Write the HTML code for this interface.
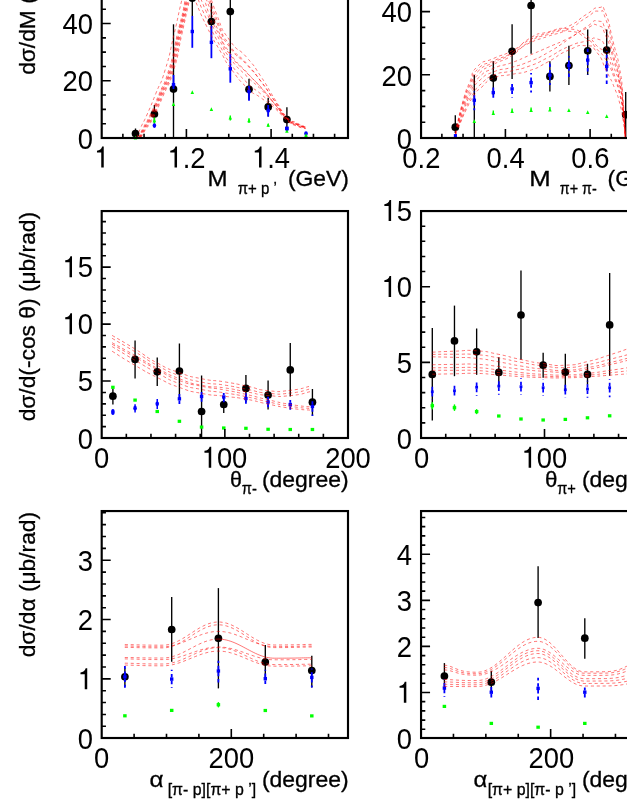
<!DOCTYPE html>
<html><head><meta charset="utf-8"><title>chart</title>
<style>html,body{margin:0;padding:0;background:#fff;}svg{display:block;will-change:transform;}</style>
</head><body>
<svg width="627" height="811" viewBox="0 0 627 811" font-family='"Liberation Sans", sans-serif' fill="#000">
<rect width="627" height="811" fill="#fff"/>
<clipPath id="c1b"><rect x="0" y="0" width="627" height="138"/></clipPath><g clip-path="url(#c1b)">
<path d="M135.5 128.5V137" stroke="#000" stroke-width="1.35"/>
<circle cx="135.5" cy="133.6" r="3.85" fill="#000"/>
<path d="M154.4 105V123" stroke="#000" stroke-width="1.35"/>
<circle cx="154.4" cy="114" r="3.85" fill="#000"/>
<path d="M173.5 24.3V137.8" stroke="#000" stroke-width="1.35"/>
<circle cx="173.5" cy="89.1" r="3.85" fill="#000"/>
<path d="M192.3 -20V16" stroke="#000" stroke-width="1.35"/>
<circle cx="192.3" cy="-1.8" r="3.85" fill="#000"/>
<path d="M211.4 3V40" stroke="#000" stroke-width="1.35"/>
<circle cx="211.4" cy="21.5" r="3.85" fill="#000"/>
<path d="M230.3 -10V53.8" stroke="#000" stroke-width="1.35"/>
<circle cx="230.3" cy="11.6" r="3.85" fill="#000"/>
<path d="M249 78.7V99.7" stroke="#000" stroke-width="1.35"/>
<circle cx="249" cy="89.3" r="3.85" fill="#000"/>
<path d="M268.2 97.7V116.6" stroke="#000" stroke-width="1.35"/>
<circle cx="268.2" cy="106.9" r="3.85" fill="#000"/>
<path d="M286.9 107.3V131" stroke="#000" stroke-width="1.35"/>
<circle cx="286.9" cy="119.6" r="3.85" fill="#000"/>
</g>
<path d="M135.5 135.83L137.25 139.57H133.75Z" fill="#00ff00"/>
<path d="M154.4 117.4V123.8" stroke="#00ff00" stroke-width="1.4"/>
<path d="M154.4 118.43L156.15 122.17H152.65Z" fill="#00ff00"/>
<path d="M173.5 102.13L175.25 105.88H171.75Z" fill="#00ff00"/>
<path d="M192.3 90.13L194.05 93.88H190.55Z" fill="#00ff00"/>
<path d="M211.4 107.33L213.15 111.08H209.65Z" fill="#00ff00"/>
<path d="M230.3 115.6V120.4" stroke="#00ff00" stroke-width="1.4"/>
<path d="M230.3 115.83L232.05 119.58H228.55Z" fill="#00ff00"/>
<path d="M249 118.2V123" stroke="#00ff00" stroke-width="1.4"/>
<path d="M249 118.43L250.75 122.17H247.25Z" fill="#00ff00"/>
<path d="M268.2 123.7V126.7" stroke="#00ff00" stroke-width="1.4"/>
<path d="M268.2 123.03L269.95 126.78H266.45Z" fill="#00ff00"/>
<path d="M286.9 129.03L288.65 132.77H285.15Z" fill="#00ff00"/>
<path d="M306 133.23L307.75 136.97H304.25Z" fill="#00ff00"/>
<ellipse cx="154.4" cy="125.6" rx="1.8" ry="2.4" fill="#0000ff"/>
<path d="M173.5 75V89" stroke="#0000ff" stroke-width="1.8"/>
<rect x="171.8" y="83" width="3.4" height="3.4" fill="#0000ff"/>
<path d="M192.3 15.9V47.8" stroke="#0000ff" stroke-width="1.8"/>
<rect x="190.6" y="29.8" width="3.4" height="3.4" fill="#0000ff"/>
<path d="M211.4 25.9V58.2" stroke="#0000ff" stroke-width="1.8"/>
<rect x="209.7" y="40.6" width="3.4" height="3.4" fill="#0000ff"/>
<path d="M230.3 53.8V82.7" stroke="#0000ff" stroke-width="1.8"/>
<rect x="228.6" y="67.1" width="3.4" height="3.4" fill="#0000ff"/>
<path d="M249 85.7V100.7" stroke="#0000ff" stroke-width="1.8"/>
<rect x="247.3" y="89.8" width="3.4" height="3.4" fill="#0000ff"/>
<path d="M268.2 105V116.6" stroke="#0000ff" stroke-width="1.8"/>
<rect x="266.5" y="108.8" width="3.4" height="3.4" fill="#0000ff"/>
<rect x="285" y="126.6" width="3.8" height="3.8" fill="#0000ff"/>
<ellipse cx="306" cy="133.4" rx="1.8" ry="2.2" fill="#0000ff"/>
<clipPath id="c1"><rect x="101.7" y="-5" width="246.3" height="143"/></clipPath><g clip-path="url(#c1)">
<path d="M136.9 137C138.27 133.67 137.53 134.67 141 127C144.47 119.33 142.33 125.23 147.3 114C152.27 102.77 149.87 108.27 155.9 93.3C161.93 78.33 159.37 88.7 165.4 69.1C171.43 49.5 168.53 57.53 174 34.5C179.47 11.47 176.65 21.42 181.8 0C186.95 -21.42 184.82 -16.46 189.46 -29.75C194.1 -43.04 190.33 -50.99 195.72 -39.88C201.12 -28.76 197.92 -21.26 205.65 3.6C213.38 28.46 210.71 17.54 218.92 34.69C227.13 51.85 220.93 42.27 230.29 55.07C239.65 67.86 236.76 62.35 247 73.08C257.24 83.8 251.67 76.98 261 87.25C270.33 97.52 266.33 93.37 275 103.89C283.67 114.41 280 112.08 287 118.81C294 125.55 289.8 121.11 296 124.08C302.2 127.05 302.4 126.51 305.6 127.72" fill="none" stroke="#ff0000" stroke-width="0.55" stroke-dasharray="3.1 2.8" stroke-dashoffset="0.6" stroke-opacity="1"/>
<path d="M138.71 137C140.17 133.95 139.51 134.78 143.1 127.84C146.69 120.9 144.25 127.22 149.48 116.18C154.72 105.15 152.29 110.42 158.8 94.73C165.31 79.03 162.85 89.18 169.01 69.1C175.17 49.02 171.92 57.53 177.28 34.5C182.63 11.47 181.09 22.07 185.08 0C189.06 -22.07 185.66 -17.22 189.24 -31.7C192.81 -46.18 190.87 -45.68 195.79 -43.45C200.71 -41.22 197.1 -44.15 204 -25C210.9 -5.85 208 -7.67 216.5 14C225 35.67 219.33 25.43 229.5 40C239.67 54.57 236.5 45.5 247 57.7C257.5 69.9 251.67 62.67 261 76.6C270.33 90.53 266.33 85.97 275 99.5C283.67 113.03 280 109.5 287 117.2C294 124.9 289.8 119.33 296 122.6C302.2 125.87 302.4 125.53 305.6 127" fill="none" stroke="#ff0000" stroke-width="0.55" stroke-dasharray="3.1 2.8" stroke-dashoffset="0.3" stroke-opacity="1"/>
<path d="M139.14 137C140.62 134.01 139.98 134.81 143.6 128.04C147.22 121.27 144.71 127.69 150 116.7C155.3 105.71 152.87 110.94 159.49 95.07C166.11 79.2 163.68 89.29 169.87 69.1C176.06 48.91 172.73 57.53 178.06 34.5C183.38 11.47 181.98 20.82 185.86 0C189.73 -20.82 186.4 -15.76 189.67 -27.95C192.94 -40.14 190.74 -40.16 195.67 -36.58C200.59 -32.99 197.25 -36.22 204.45 -17.2C211.65 1.82 208.82 -0.36 217.26 20.5C225.7 41.36 219.87 30.92 229.78 45.38C239.69 59.84 236.59 51.88 247 63.89C257.41 75.89 251.67 68.79 261 81.39C270.33 93.99 266.33 89.46 275 101.69C283.67 113.93 280 110.82 287 118.09C294 125.36 289.8 120.37 296 123.5C302.2 126.63 302.4 126.15 305.6 127.48" fill="none" stroke="#ff0000" stroke-width="0.55" stroke-dasharray="3.1 2.8" stroke-dashoffset="1.2" stroke-opacity="1"/>
<path d="M139.48 137C140.99 134.07 140.35 134.83 144 128.2C147.65 121.57 145.07 128.07 150.42 117.12C155.77 106.17 153.33 111.35 160.04 95.34C166.75 79.33 164.35 89.38 170.56 69.1C176.77 48.82 173.37 57.53 178.68 34.5C183.99 11.47 182.68 19.67 186.48 0C190.28 -19.67 187.05 -14.42 190.07 -24.5C193.1 -34.58 190.61 -35.28 195.55 -30.25C200.49 -25.22 197.49 -27.76 204.9 -9.4C212.31 8.96 209.43 5.85 217.77 24.83C226.1 43.81 220.15 34.14 229.89 47.53C239.64 60.93 236.63 53.73 247 65.01C257.37 76.3 251.67 69.28 261 81.39C270.33 93.51 266.33 89.21 275 101.36C283.67 113.5 280 110.58 287 117.84C294 125.1 289.8 120.01 296 123.14C302.2 126.27 302.4 125.87 305.6 127.24" fill="none" stroke="#ff0000" stroke-width="0.55" stroke-dasharray="3.1 2.8" stroke-dashoffset="0.1" stroke-opacity="1"/>
<path d="M139.82 137C141.35 134.12 140.73 134.85 144.4 128.36C148.07 121.87 145.44 128.45 150.84 117.54C156.23 106.62 153.79 111.76 160.59 95.61C167.4 79.47 165.01 89.47 171.25 69.1C177.49 48.73 174.02 57.53 179.3 34.5C184.59 11.47 183.4 18.67 187.1 0C190.81 -18.67 187.64 -13.25 190.43 -21.5C193.21 -29.75 190.5 -30.86 195.45 -24.75C200.39 -18.64 197.58 -21.79 205.26 -3.16C212.94 15.47 210.19 12.25 218.5 31.13C226.82 50.02 220.71 39.68 230.2 53.49C239.7 67.29 236.73 61.15 247 72.55C257.26 83.95 251.67 77.06 261 87.68C270.33 98.29 266.33 93.92 275 104.41C283.67 114.89 280 112.44 287 119.14C294 125.84 289.8 121.55 296 124.5C302.2 127.46 302.4 126.83 305.6 127.99" fill="none" stroke="#ff0000" stroke-width="0.55" stroke-dasharray="3.1 2.8" stroke-dashoffset="1.0" stroke-opacity="1"/>
<path d="M140.25 137C141.8 134.19 141.2 134.87 144.9 128.56C148.6 122.25 145.9 128.93 151.36 118.06C156.82 107.19 154.36 112.27 161.28 95.95C168.2 79.63 165.84 89.58 172.11 69.1C178.38 48.62 174.83 57.53 180.08 34.5C185.34 11.47 184.22 16.77 187.88 0C191.55 -16.77 188.63 -11.03 191.09 -15.8C193.55 -20.57 190.26 -23.37 195.26 -14.3C200.26 -5.23 198.01 -6.7 206.1 11.4C214.19 29.5 211.41 24.24 219.54 39.99C227.66 55.74 221.32 46.5 230.47 58.66C239.63 70.81 236.82 66.21 247 76.45C257.18 86.69 251.67 79.97 261 89.38C270.33 98.79 266.33 94.78 275 104.67C283.67 114.57 280 112.53 287 119.07C294 125.6 289.8 121.37 296 124.28C302.2 127.19 302.4 126.63 305.6 127.8" fill="none" stroke="#ff0000" stroke-width="0.55" stroke-dasharray="3.1 2.8" stroke-dashoffset="0.7" stroke-opacity="1"/>
<path d="M140.68 137C142.26 134.25 141.67 134.9 145.4 128.76C149.13 122.62 146.35 129.4 151.88 118.58C157.4 107.75 154.94 112.78 161.97 96.29C169 79.8 166.67 89.7 172.97 69.1C179.27 48.5 175.63 57.53 180.86 34.5C186.1 11.47 185.11 15.52 188.66 0C192.22 -15.52 189.37 -9.58 191.53 -12.05C193.68 -14.53 190.13 -17.84 195.14 -7.43C200.14 2.99 198.16 1.23 206.55 19.2C214.94 37.17 212.23 31.54 220.3 46.48C228.37 61.43 221.86 51.99 230.76 64.04C239.66 76.09 236.92 72.59 247 82.64C257.08 92.68 251.67 86.1 261 94.17C270.33 102.25 266.33 98.27 275 106.87C283.67 115.47 280 113.86 287 119.96C294 126.07 289.8 122.41 296 125.18C302.2 127.95 302.4 127.25 305.6 128.28" fill="none" stroke="#ff0000" stroke-width="0.55" stroke-dasharray="3.1 2.8" stroke-dashoffset="0.1" stroke-opacity="1"/>
<path d="M141.2 137C142.8 134.33 142.23 134.93 146 129C149.77 123.07 146.9 129.97 152.5 119.2C158.1 108.43 155.63 113.4 162.8 96.7C169.97 80 167.67 89.83 174 69.1C180.33 48.37 176.6 57.53 181.8 34.5C187 11.47 186.2 14.17 189.6 0C193 -14.17 190.2 -8 192 -8C193.8 -8 190 -11.67 195 0C200 11.67 198.33 9.5 207 27C215.67 44.5 213 38.6 221 52.5C229 66.4 222.33 56.97 231 68.7C239.67 80.43 237 77.97 247 87.7C257 97.43 251.67 90.97 261 97.9C270.33 104.83 266.33 100.93 275 108.5C283.67 116.07 280 114.83 287 120.6C294 126.37 289.8 123.13 296 125.8C302.2 128.47 302.4 127.67 305.6 128.6" fill="none" stroke="#ff0000" stroke-width="0.55" stroke-dasharray="3.1 2.8" stroke-dashoffset="0.9" stroke-opacity="1"/>
</g>
<path d="M306 133.29L307.3 136.07H304.7Z" fill="#00ff00"/>
<rect x="101.7" y="-88.95" width="246.3" height="226.95" fill="none" stroke="#000" stroke-width="2.15"/>
<path d="M101.7 123.69h4.25M101.7 109.38h4.25M101.7 95.07h4.25M101.7 66.45h4.25M101.7 52.14h4.25M101.7 37.83h4.25M101.7 9.21h4.25M101.7 80.76h9.0M101.7 23.52h9.0" stroke="#000" stroke-width="1.6" fill="none"/>
<path d="M122.88 138v-4.25M144.05 138v-4.25M165.22 138v-4.25M207.57 138v-4.25M228.75 138v-4.25M249.93 138v-4.25M292.27 138v-4.25M313.45 138v-4.25M334.62 138v-4.25M186.4 138v-9.0M271.1 138v-9.0" stroke="#000" stroke-width="1.6" fill="none"/>
<text transform="translate(62.45 33.65) scale(0.925 1)" font-size="29.6">40</text>
<text transform="translate(62.45 90.95) scale(0.925 1)" font-size="29.6">20</text>
<text transform="translate(77.68 148.65) scale(0.925 1)" font-size="29.6">0</text>
<path d="M103.74 167.6L101.25 167.6L101.25 152.59L96.98 152.59L96.98 150.73C99.53 150.49 101.53 149.1 102.18 146.61L103.74 146.61Z" fill="#000"/>
<path d="M177.03 167.6L174.53 167.6L174.53 152.59L170.26 152.59L170.26 150.73C172.81 150.49 174.81 149.1 175.47 146.61L177.03 146.61Z" fill="#000"/>
<text transform="translate(182.69 167.6) scale(0.925 1)" font-size="29.6">.2</text>
<path d="M261.53 167.6L259.03 167.6L259.03 152.59L254.76 152.59L254.76 150.73C257.31 150.49 259.31 149.1 259.97 146.61L261.53 146.61Z" fill="#000"/>
<text transform="translate(267.19 167.6) scale(0.925 1)" font-size="29.6">.4</text>
<clipPath id="c2b"><rect x="0" y="0" width="627" height="138"/></clipPath><g clip-path="url(#c2b)">
<path d="M455.3 115.2V133" stroke="#000" stroke-width="1.35"/>
<circle cx="455.3" cy="127.2" r="3.85" fill="#000"/>
<path d="M474.3 75V137.8" stroke="#000" stroke-width="1.35"/>
<path d="M493.3 61.3V94.9" stroke="#000" stroke-width="1.35"/>
<circle cx="493.3" cy="78.1" r="3.85" fill="#000"/>
<path d="M512.1 24.3V78.9" stroke="#000" stroke-width="1.35"/>
<circle cx="512.1" cy="51.3" r="3.85" fill="#000"/>
<path d="M531.1 -10V53.8" stroke="#000" stroke-width="1.35"/>
<circle cx="531.1" cy="5.5" r="3.85" fill="#000"/>
<path d="M549.9 61.3V91.4" stroke="#000" stroke-width="1.35"/>
<circle cx="549.9" cy="76.4" r="3.85" fill="#000"/>
<path d="M568.9 45.8V85.1" stroke="#000" stroke-width="1.35"/>
<circle cx="568.9" cy="65.6" r="3.85" fill="#000"/>
<path d="M587.7 29.5V75.1" stroke="#000" stroke-width="1.35"/>
<circle cx="587.7" cy="50.8" r="3.85" fill="#000"/>
<path d="M606.7 29.5V71" stroke="#000" stroke-width="1.35"/>
<circle cx="606.7" cy="50.1" r="3.85" fill="#000"/>
<path d="M625.7 92.1V137.8" stroke="#000" stroke-width="1.35"/>
<circle cx="625.7" cy="114.7" r="3.85" fill="#000"/>
</g>
<path d="M455.5 137.5L456.0 130.8" stroke="#ff0000" stroke-width="1.3"/>
<path d="M474.3 119.13L476.05 122.88H472.55Z" fill="#00ff00"/>
<path d="M493.3 110.4V113.3" stroke="#00ff00" stroke-width="1.4"/>
<path d="M493.3 111.13L495.05 114.88H491.55Z" fill="#00ff00"/>
<path d="M512.1 108.6V111.5" stroke="#00ff00" stroke-width="1.4"/>
<path d="M512.1 109.33L513.85 113.08H510.35Z" fill="#00ff00"/>
<path d="M531.1 107.4V110.3" stroke="#00ff00" stroke-width="1.4"/>
<path d="M531.1 108.13L532.85 111.88H529.35Z" fill="#00ff00"/>
<path d="M549.9 106.9V109.8" stroke="#00ff00" stroke-width="1.4"/>
<path d="M549.9 107.63L551.65 111.38H548.15Z" fill="#00ff00"/>
<path d="M568.9 108.13L570.65 111.88H567.15Z" fill="#00ff00"/>
<path d="M587.7 110.33L589.45 114.08H585.95Z" fill="#00ff00"/>
<path d="M606.7 114.13L608.45 117.88H604.95Z" fill="#00ff00"/>
<rect x="453.85" y="134.05" width="3.1" height="3.1" fill="#0000ff"/>
<path d="M474.3 98.5V91.4M474.3 101.9V110.2" stroke="#0000ff" stroke-width="1.8" stroke-dasharray="3.5 2.8"/>
<rect x="472.6" y="98.5" width="3.4" height="3.4" fill="#0000ff"/>
<path d="M493.3 90.9V86.4M493.3 94.3V100.2" stroke="#0000ff" stroke-width="1.8" stroke-dasharray="3.5 2.8"/>
<rect x="491.6" y="90.9" width="3.4" height="3.4" fill="#0000ff"/>
<path d="M512.1 87.2V83.9M512.1 90.6V97.6" stroke="#0000ff" stroke-width="1.8" stroke-dasharray="3.5 2.8"/>
<rect x="510.4" y="87.2" width="3.4" height="3.4" fill="#0000ff"/>
<path d="M531.1 80.9V73.1M531.1 84.3V92.6" stroke="#0000ff" stroke-width="1.8" stroke-dasharray="3.5 2.8"/>
<rect x="529.4" y="80.9" width="3.4" height="3.4" fill="#0000ff"/>
<path d="M549.9 73.4V62.6M549.9 76.8V85.1" stroke="#0000ff" stroke-width="1.8" stroke-dasharray="3.5 2.8"/>
<rect x="548.2" y="73.4" width="3.4" height="3.4" fill="#0000ff"/>
<path d="M568.9 63.9V56.3M568.9 67.3V77.6" stroke="#0000ff" stroke-width="1.8" stroke-dasharray="3.5 2.8"/>
<rect x="567.2" y="63.9" width="3.4" height="3.4" fill="#0000ff"/>
<path d="M587.7 58.4V48.8M587.7 61.8V75.1" stroke="#0000ff" stroke-width="1.8" stroke-dasharray="3.5 2.8"/>
<rect x="586" y="58.4" width="3.4" height="3.4" fill="#0000ff"/>
<path d="M606.7 64.6V51.3M606.7 68V83.9" stroke="#0000ff" stroke-width="1.8" stroke-dasharray="3.5 2.8"/>
<rect x="605" y="64.6" width="3.4" height="3.4" fill="#0000ff"/>
<clipPath id="c2"><rect x="421.05" y="-5" width="246.3" height="143"/></clipPath><g clip-path="url(#c2)">
<path d="M456.6 126.3C459.03 116.8 459.5 112.57 463.9 97.8C468.3 83.03 465.33 92.4 469.8 82C474.27 71.6 469.33 74.47 477.3 66.6C485.27 58.73 482.27 63.6 493.7 58.4C505.13 53.2 499.67 57.13 511.6 51C523.53 44.87 517.57 46 529.5 40C541.43 34 534.5 37.53 547.4 33C560.3 28.47 555.3 32.53 568.2 26.4C581.1 20.27 575.9 20.87 586.1 14.6C596.3 8.33 592.27 7.97 598.8 7.6C605.33 7.23 600.9 2.03 605.7 13.5C610.5 24.97 608.6 23.83 613.2 42C617.8 60.17 616.23 49.33 619.5 68C622.77 86.67 621.1 75.13 623 98C624.9 120.87 624.47 123.73 625.2 136.6" fill="none" stroke="#ff0000" stroke-width="0.55" stroke-dasharray="3.1 2.8" stroke-dashoffset="0.1" stroke-opacity="1"/>
<path d="M456.78 126.45C459.25 117.25 459.7 113.24 464.19 98.86C468.68 84.48 465.7 93.24 470.25 83.3C474.8 73.36 470.02 76.56 477.84 69.05C485.66 61.54 482.45 66 493.7 60.76C504.95 55.53 499.67 59.24 511.6 53.34C523.53 47.44 517.57 48.67 529.5 43.06C541.43 37.45 534.5 41.1 547.4 36.5C560.3 31.91 555.3 35.53 568.2 29.27C581.1 23.01 575.95 23.75 586.1 17.72C596.25 11.69 592.1 10.68 598.66 11.19C605.22 11.7 600.87 6.68 605.78 19.25C610.69 31.82 608.79 30.22 613.39 48.9C618 67.58 616.37 57.27 619.6 75.3C622.84 93.33 621.22 82.47 623.1 103C624.98 123.53 624.53 125.59 625.24 136.88" fill="none" stroke="#ff0000" stroke-width="0.55" stroke-dasharray="3.1 2.8" stroke-dashoffset="0.8" stroke-opacity="1"/>
<path d="M456.96 126.6C459.47 117.71 459.9 113.92 464.48 99.92C469.06 85.92 466.1 94.21 470.7 84.6C475.3 74.99 470.62 78.51 478.29 71.09C485.96 63.67 482.6 68.26 493.7 62.34C504.8 56.42 499.67 61.3 511.6 53.34C523.53 45.38 517.57 45.54 529.5 38.47C541.43 31.4 534.5 35.35 547.4 32.12C560.3 28.9 555.3 27.56 568.2 28.79C581.1 30.02 576.42 30.01 586.1 35.82C595.78 41.62 590.53 39.85 597.25 46.21C603.98 52.58 600.66 45.57 606.28 54.9C611.9 64.23 609.59 61.32 614.11 74.2C618.63 87.08 616.77 79.78 619.85 93.55C622.93 107.32 621.52 100.82 623.35 115.5C625.18 130.18 624.68 130.22 625.34 137.58" fill="none" stroke="#ff0000" stroke-width="0.55" stroke-dasharray="3.1 2.8" stroke-dashoffset="0.1" stroke-opacity="1"/>
<path d="M457.23 126.82C459.79 118.39 460.2 114.93 464.91 101.51C469.63 88.08 466.72 95.81 471.38 86.55C476.03 77.29 471.43 81.15 478.88 73.74C486.32 66.33 482.79 70.33 493.7 64.31C504.61 58.29 499.67 63.17 511.6 55.68C523.53 48.19 517.57 48.81 529.5 41.84C541.43 34.86 534.5 38.3 547.4 34.75C560.3 31.2 555.3 29.99 568.2 31.18C581.1 32.37 576.46 32.25 586.1 38.31C595.74 44.37 590.37 41.91 597.13 49.36C603.88 56.8 600.66 51.14 606.36 60.65C612.05 70.16 609.71 66.3 614.21 77.88C618.72 89.45 616.82 82.42 619.88 95.38C622.93 108.33 621.55 102.66 623.38 116.75C625.2 130.84 624.69 130.68 625.35 137.65" fill="none" stroke="#ff0000" stroke-width="0.55" stroke-dasharray="3.1 2.8" stroke-dashoffset="0.2" stroke-opacity="1"/>
<path d="M457.5 127.05C460.12 119.07 460.5 115.95 465.35 103.1C470.2 90.25 467.32 97.27 472.05 88.5C476.78 79.73 472.33 83.55 479.55 76.8C486.77 70.05 483.02 72.95 493.7 68.25C504.38 63.55 499.67 67.02 511.6 62.7C523.53 58.38 517.57 60.33 529.5 55.3C541.43 50.27 534.5 53.25 547.4 47.6C560.3 41.95 555.3 44.67 568.2 38.35C581.1 32.03 576.14 32.9 586.1 28.64C596.06 24.38 591.44 22.94 598.08 25.56C604.72 28.18 600.81 24.89 606.02 36.5C611.23 48.11 609.16 45.03 613.72 60.4C618.28 75.77 616.54 66.73 619.7 82.6C622.86 98.47 621.34 89.81 623.2 108C625.06 126.19 624.59 127.44 625.28 137.16" fill="none" stroke="#ff0000" stroke-width="0.55" stroke-dasharray="3.1 2.8" stroke-dashoffset="0.8" stroke-opacity="1"/>
<path d="M457.77 127.28C460.44 119.75 460.8 116.97 465.78 104.69C470.77 92.41 467.91 98.73 472.73 90.45C477.54 82.17 473.23 86.08 480.23 79.86C487.22 73.64 483.24 75.96 493.7 71.8C504.16 67.64 499.67 70.84 511.6 67.38C523.53 63.92 517.57 66.26 529.5 61.42C541.43 56.58 534.5 60.15 547.4 52.86C560.3 45.56 555.3 48.14 568.2 39.55C581.1 30.95 576.08 33.24 586.1 27.08C596.12 20.92 591.65 19.85 598.26 21.07C604.87 22.29 600.83 19.17 605.94 30.75C611.05 42.33 609.01 39.12 613.59 55.8C618.17 72.47 616.47 63.38 619.67 80.78C622.88 98.18 621.33 89.2 623.2 108C625.07 126.8 624.59 127.44 625.28 137.16" fill="none" stroke="#ff0000" stroke-width="0.55" stroke-dasharray="3.1 2.8" stroke-dashoffset="1.5" stroke-opacity="1"/>
<path d="M458.13 127.58C460.88 120.65 461.2 118.32 466.37 106.81C471.53 95.3 468.7 100.67 473.62 93.05C478.55 85.43 474.43 89.91 481.12 83.94C487.82 77.97 483.54 79.49 493.7 75.14C503.86 70.8 499.67 73.94 511.6 70.89C523.53 67.84 517.57 70.37 529.5 66.01C541.43 61.65 534.5 64.25 547.4 57.82C560.3 51.39 555.3 52.28 568.2 46.71C581.1 41.15 576.32 43.68 586.1 41.12C595.88 38.56 590.85 36.74 597.54 39.03C604.23 41.32 600.72 38.58 606.18 48C611.64 57.42 609.39 54.55 613.91 67.3C618.44 80.05 616.64 71.85 619.75 86.25C622.86 100.65 621.4 93.48 623.25 110.5C625.1 127.52 624.62 128.37 625.3 137.3" fill="none" stroke="#ff0000" stroke-width="0.55" stroke-dasharray="3.1 2.8" stroke-dashoffset="0.2" stroke-opacity="1"/>
<path d="M458.4 127.8C461.2 121.33 461.5 119.33 466.8 108.4C472.1 97.47 469.3 102.13 474.3 95C479.3 87.87 475.33 92.63 481.8 87C488.27 81.37 483.77 82.3 493.7 78.1C503.63 73.9 499.67 76.9 511.6 74.4C523.53 71.9 517.57 74.67 529.5 70.6C541.43 66.53 534.5 68.97 547.4 62.2C560.3 55.43 555.3 55.77 568.2 50.3C581.1 44.83 576.5 45.07 586.1 45.8C595.7 46.53 590.2 44.1 597 52.5C603.8 60.9 600.67 59.17 606.5 71C612.33 82.83 610 76.83 614.5 88C619 99.17 617 92.83 620 104.5C623 116.17 621.7 111.83 623.5 123C625.3 134.17 624.77 133 625.4 138" fill="none" stroke="#ff0000" stroke-width="0.55" stroke-dasharray="3.1 2.8" stroke-dashoffset="0.4" stroke-opacity="1"/>
</g>
<rect x="421.05" y="-88.95" width="246.3" height="226.95" fill="none" stroke="#000" stroke-width="2.15"/>
<path d="M421.05 122.2h4.25M421.05 106.4h4.25M421.05 90.6h4.25M421.05 59h4.25M421.05 43.2h4.25M421.05 27.4h4.25M421.05 74.8h9.0M421.05 11.6h9.0" stroke="#000" stroke-width="1.6" fill="none"/>
<path d="M441.88 138v-4.25M463.05 138v-4.25M484.23 138v-4.25M526.58 138v-4.25M547.75 138v-4.25M568.92 138v-4.25M611.27 138v-4.25M632.45 138v-4.25M653.62 138v-4.25M505.4 138v-9.0M590.1 138v-9.0" stroke="#000" stroke-width="1.6" fill="none"/>
<text transform="translate(381.55 21.75) scale(0.925 1)" font-size="29.6">40</text>
<text transform="translate(381.55 85.55) scale(0.925 1)" font-size="29.6">20</text>
<text transform="translate(396.78 148.65) scale(0.925 1)" font-size="29.6">0</text>
<text transform="translate(402.37 167.6) scale(0.925 1)" font-size="29.6">0.2</text>
<text transform="translate(486.57 167.6) scale(0.925 1)" font-size="29.6">0.4</text>
<text transform="translate(571.37 167.6) scale(0.925 1)" font-size="29.6">0.6</text>
<path d="M112.9 388.5V404.5" stroke="#000" stroke-width="1.35"/>
<circle cx="112.9" cy="396.2" r="3.85" fill="#000"/>
<path d="M135.07 340.5V378.5" stroke="#000" stroke-width="1.35"/>
<circle cx="135.07" cy="359.4" r="3.85" fill="#000"/>
<path d="M157.24 357.5V386" stroke="#000" stroke-width="1.35"/>
<circle cx="157.24" cy="371.8" r="3.85" fill="#000"/>
<path d="M179.41 343.5V399" stroke="#000" stroke-width="1.35"/>
<circle cx="179.41" cy="371" r="3.85" fill="#000"/>
<path d="M201.58 375.5V438" stroke="#000" stroke-width="1.35"/>
<circle cx="201.58" cy="411.5" r="3.85" fill="#000"/>
<path d="M223.75 396V413" stroke="#000" stroke-width="1.35"/>
<circle cx="223.75" cy="404.5" r="3.85" fill="#000"/>
<path d="M245.92 375V402" stroke="#000" stroke-width="1.35"/>
<circle cx="245.92" cy="388.4" r="3.85" fill="#000"/>
<path d="M268.09 380.5V409.5" stroke="#000" stroke-width="1.35"/>
<circle cx="268.09" cy="395" r="3.85" fill="#000"/>
<path d="M290.26 343V396.5" stroke="#000" stroke-width="1.35"/>
<circle cx="290.26" cy="369.9" r="3.85" fill="#000"/>
<path d="M312.43 389V415.5" stroke="#000" stroke-width="1.35"/>
<circle cx="312.43" cy="402.2" r="3.85" fill="#000"/>
<rect x="111.15" y="385.7" width="3.5" height="3.2" fill="#00ff00"/>
<rect x="133.32" y="398.5" width="3.5" height="3.2" fill="#00ff00"/>
<rect x="155.49" y="409.9" width="3.5" height="3.2" fill="#00ff00"/>
<rect x="177.66" y="419.7" width="3.5" height="3.2" fill="#00ff00"/>
<rect x="199.83" y="425.5" width="3.5" height="3.2" fill="#00ff00"/>
<rect x="222" y="426.4" width="3.5" height="3.2" fill="#00ff00"/>
<rect x="244.17" y="426.7" width="3.5" height="3.2" fill="#00ff00"/>
<rect x="266.34" y="427.7" width="3.5" height="3.2" fill="#00ff00"/>
<rect x="288.51" y="427.9" width="3.5" height="3.2" fill="#00ff00"/>
<rect x="310.68" y="427.9" width="3.5" height="3.2" fill="#00ff00"/>
<ellipse cx="112.9" cy="411.9" rx="1.8" ry="3.0" fill="#0000ff"/>
<path d="M135.07 404.2V412.5" stroke="#0000ff" stroke-width="1.5"/>
<ellipse cx="135.07" cy="408.2" rx="1.8" ry="2.4" fill="#0000ff"/>
<path d="M157.24 398.9V408.9" stroke="#0000ff" stroke-width="1.5"/>
<ellipse cx="157.24" cy="403.8" rx="1.8" ry="2.4" fill="#0000ff"/>
<path d="M179.41 397.1V394M179.41 400.5V406" stroke="#0000ff" stroke-width="1.8" stroke-dasharray="3.5 2.8"/>
<rect x="177.71" y="397.1" width="3.4" height="3.4" fill="#0000ff"/>
<path d="M201.58 394.8V392M201.58 398.2V404" stroke="#0000ff" stroke-width="1.8" stroke-dasharray="3.5 2.8"/>
<rect x="199.88" y="394.8" width="3.4" height="3.4" fill="#0000ff"/>
<path d="M223.75 395.3V393M223.75 398.7V404" stroke="#0000ff" stroke-width="1.8" stroke-dasharray="3.5 2.8"/>
<rect x="222.05" y="395.3" width="3.4" height="3.4" fill="#0000ff"/>
<path d="M245.92 396.8V393M245.92 400.2V405.5" stroke="#0000ff" stroke-width="1.8" stroke-dasharray="3.5 2.8"/>
<rect x="244.22" y="396.8" width="3.4" height="3.4" fill="#0000ff"/>
<path d="M268.09 400.3V396M268.09 403.7V410" stroke="#0000ff" stroke-width="1.8" stroke-dasharray="3.5 2.8"/>
<rect x="266.39" y="400.3" width="3.4" height="3.4" fill="#0000ff"/>
<path d="M290.26 402.8V400M290.26 406.2V412" stroke="#0000ff" stroke-width="1.8" stroke-dasharray="3.5 2.8"/>
<rect x="288.56" y="402.8" width="3.4" height="3.4" fill="#0000ff"/>
<path d="M312.43 404.8V400.5M312.43 408.2V416" stroke="#0000ff" stroke-width="1.8" stroke-dasharray="3.5 2.8"/>
<rect x="310.73" y="404.8" width="3.4" height="3.4" fill="#0000ff"/>
<path d="M112.1 335.4C119.7 339.9 119.8 339.68 134.9 348.91C150 358.14 142.6 355.18 157.4 363.09C172.2 370.99 164.57 367.42 179.3 372.63C194.03 377.85 186.47 375.64 201.6 378.73C216.73 381.82 209.77 379.48 224.7 381.9C239.63 384.33 231.87 383.07 246.4 386C260.93 388.93 253.63 389.27 268.3 390.7C282.97 392.13 276.2 391.87 290.4 390.3C304.6 388.73 304.07 387.43 310.9 386" fill="none" stroke="#ff0000" stroke-width="0.55" stroke-dasharray="3.1 2.8" stroke-opacity="1"/>
<path d="M112.1 338.32C119.7 342.78 119.8 342.64 134.9 351.7C150 360.77 142.6 357.53 157.4 365.51C172.2 373.5 164.57 370.12 179.3 375.65C194.03 381.18 186.47 378.96 201.6 382.12C216.73 385.27 209.77 382.75 224.7 385.11C239.63 387.46 231.87 386.47 246.4 389.19C260.93 391.91 253.63 391.98 268.3 393.26C282.97 394.54 276.2 394.54 290.4 393.04C304.6 391.54 304.07 390.18 310.9 388.75" fill="none" stroke="#ff0000" stroke-width="0.55" stroke-dasharray="3.1 2.8" stroke-opacity="1"/>
<path d="M112.1 342.7C119.7 346.93 119.8 346.85 134.9 355.39C150 363.93 142.6 360.55 157.4 368.31C172.2 376.07 164.57 373.01 179.3 378.67C194.03 384.32 186.47 382.19 201.6 385.27C216.73 388.34 209.77 385.72 224.7 387.9C239.63 390.07 231.87 389.27 246.4 391.8C260.93 394.33 253.63 394.23 268.3 395.5C282.97 396.77 276.2 396.93 290.4 395.6C304.6 394.27 304.07 392.87 310.9 391.5" fill="none" stroke="#ff0000" stroke-width="0.55" stroke-dasharray="3.1 2.8" stroke-opacity="1"/>
<path d="M112.1 344.27C119.7 348.54 119.8 348.59 134.9 357.09C150 365.59 142.6 361.97 157.4 369.77C172.2 377.57 164.57 375.01 179.3 380.5C194.03 385.99 186.47 383.09 201.6 386.25C216.73 389.41 209.77 387.23 224.7 389.97C239.63 392.7 231.87 391.18 246.4 394.46C260.93 397.74 253.63 396.5 268.3 399.82C282.97 403.14 276.2 402.04 290.4 404.43C304.6 406.83 304.07 406.14 310.9 407" fill="none" stroke="#ff0000" stroke-width="0.55" stroke-dasharray="3.1 2.8" stroke-opacity="1"/>
<path d="M112.1 346.58C119.7 351.11 119.8 351.36 134.9 360.17C150 368.98 142.6 365.2 157.4 373.01C172.2 380.82 164.57 378.11 179.3 383.61C194.03 389.1 186.47 386.41 201.6 389.5C216.73 392.59 209.77 390.48 224.7 392.88C239.63 395.28 231.87 393.69 246.4 396.7C260.93 399.71 253.63 398.7 268.3 401.9C282.97 405.1 276.2 404.07 290.4 406.3C304.6 408.53 304.07 407.83 310.9 408.6" fill="none" stroke="#ff0000" stroke-width="0.55" stroke-dasharray="3.1 2.8" stroke-opacity="1"/>
<path d="M112.1 351.2C119.7 355.9 119.8 356.5 134.9 365.3C150 374.1 142.6 370.23 157.4 377.6C172.2 384.97 164.57 382.14 179.3 387.4C194.03 392.66 186.47 390.42 201.6 393.38C216.73 396.33 209.77 394.32 224.7 396.27C239.63 398.22 231.87 396.6 246.4 399.22C260.93 401.84 253.63 401.14 268.3 404.14C282.97 407.14 276.2 406.21 290.4 408.23C304.6 410.25 304.07 409.54 310.9 410.2" fill="none" stroke="#ff0000" stroke-width="0.55" stroke-dasharray="3.1 2.8" stroke-opacity="1"/>
<rect x="101.7" y="211.05" width="246.3" height="226.95" fill="none" stroke="#000" stroke-width="2.15"/>
<path d="M101.7 426.61h4.25M101.7 415.22h4.25M101.7 403.83h4.25M101.7 392.44h4.25M101.7 369.66h4.25M101.7 358.27h4.25M101.7 346.88h4.25M101.7 335.49h4.25M101.7 312.71h4.25M101.7 301.32h4.25M101.7 289.93h4.25M101.7 278.54h4.25M101.7 255.76h4.25M101.7 244.37h4.25M101.7 232.98h4.25M101.7 221.59h4.25M101.7 381.05h9.0M101.7 324.1h9.0M101.7 267.15h9.0" stroke="#000" stroke-width="1.6" fill="none"/>
<path d="M126.33 438v-4.25M150.96 438v-4.25M175.59 438v-4.25M200.22 438v-4.25M249.48 438v-4.25M274.11 438v-4.25M298.74 438v-4.25M323.37 438v-4.25M224.85 438v-9.0" stroke="#000" stroke-width="1.6" fill="none"/>
<path d="M72.01 277.15L69.52 277.15L69.52 262.14L65.25 262.14L65.25 260.28C67.79 260.04 69.79 258.65 70.45 256.16L72.01 256.16Z" fill="#000"/>
<text transform="translate(77.68 277.15) scale(0.925 1)" font-size="29.6">5</text>
<path d="M72.01 334.15L69.52 334.15L69.52 319.14L65.25 319.14L65.25 317.28C67.79 317.04 69.79 315.65 70.45 313.16L72.01 313.16Z" fill="#000"/>
<text transform="translate(77.68 334.15) scale(0.925 1)" font-size="29.6">0</text>
<text transform="translate(77.68 391.15) scale(0.925 1)" font-size="29.6">5</text>
<text transform="translate(77.68 448.65) scale(0.925 1)" font-size="29.6">0</text>
<text transform="translate(93.99 467.7) scale(0.925 1)" font-size="29.6">0</text>
<path d="M211.22 467.7L208.73 467.7L208.73 452.69L204.46 452.69L204.46 450.83C207 450.59 209 449.2 209.66 446.71L211.22 446.71Z" fill="#000"/>
<text transform="translate(216.89 467.7) scale(0.925 1)" font-size="29.6">00</text>
<text transform="translate(325.17 467.7) scale(0.925 1)" font-size="29.6">200</text>
<clipPath id="c4b"><rect x="0" y="211.05" width="627" height="226.95"/></clipPath><g clip-path="url(#c4b)">
<path d="M432.3 327.9V420.6" stroke="#000" stroke-width="1.35"/>
<circle cx="432.3" cy="374.4" r="3.85" fill="#000"/>
<path d="M454.47 305.6V376.2" stroke="#000" stroke-width="1.35"/>
<circle cx="454.47" cy="340.9" r="3.85" fill="#000"/>
<path d="M476.64 328.5V374.8" stroke="#000" stroke-width="1.35"/>
<circle cx="476.64" cy="351.8" r="3.85" fill="#000"/>
<path d="M498.81 357.2V387.6" stroke="#000" stroke-width="1.35"/>
<circle cx="498.81" cy="372.4" r="3.85" fill="#000"/>
<path d="M520.98 270.5V359.8" stroke="#000" stroke-width="1.35"/>
<circle cx="520.98" cy="315" r="3.85" fill="#000"/>
<path d="M543.15 352.8V377.8" stroke="#000" stroke-width="1.35"/>
<circle cx="543.15" cy="365.2" r="3.85" fill="#000"/>
<path d="M565.32 353.8V390.5" stroke="#000" stroke-width="1.35"/>
<circle cx="565.32" cy="372.2" r="3.85" fill="#000"/>
<path d="M587.49 363.8V384.7" stroke="#000" stroke-width="1.35"/>
<circle cx="587.49" cy="374.4" r="3.85" fill="#000"/>
<path d="M609.66 273V375.8" stroke="#000" stroke-width="1.35"/>
<circle cx="609.66" cy="324.9" r="3.85" fill="#000"/>
</g>
<path d="M432.3 402.7V408.7" stroke="#00ff00" stroke-width="1.6" stroke-linecap="round"/>
<rect x="430.55" y="404.1" width="3.5" height="3.2" fill="#00ff00"/>
<path d="M454.47 405.1V410.3" stroke="#00ff00" stroke-width="1.6" stroke-linecap="round"/>
<rect x="452.72" y="406.1" width="3.5" height="3.2" fill="#00ff00"/>
<path d="M476.64 409.8V413.4" stroke="#00ff00" stroke-width="1.6" stroke-linecap="round"/>
<rect x="474.89" y="410" width="3.5" height="3.2" fill="#00ff00"/>
<rect x="497.06" y="414.4" width="3.5" height="3.2" fill="#00ff00"/>
<rect x="519.23" y="417.4" width="3.5" height="3.2" fill="#00ff00"/>
<rect x="541.4" y="418.4" width="3.5" height="3.2" fill="#00ff00"/>
<rect x="563.57" y="417.8" width="3.5" height="3.2" fill="#00ff00"/>
<rect x="585.74" y="416.2" width="3.5" height="3.2" fill="#00ff00"/>
<rect x="607.91" y="414.2" width="3.5" height="3.2" fill="#00ff00"/>
<path d="M432.3 390.3V386.7M432.3 393.1V399.7" stroke="#0000ff" stroke-width="1.7" stroke-dasharray="3.5 2.8"/>
<rect x="430.9" y="390.3" width="2.8" height="2.8" fill="#0000ff"/>
<path d="M454.47 389.3V384.7M454.47 392.1V397.7" stroke="#0000ff" stroke-width="1.7" stroke-dasharray="3.5 2.8"/>
<rect x="453.07" y="389.3" width="2.8" height="2.8" fill="#0000ff"/>
<path d="M476.64 385.9V379.7M476.64 388.7V395.7" stroke="#0000ff" stroke-width="1.7" stroke-dasharray="3.5 2.8"/>
<rect x="475.24" y="385.9" width="2.8" height="2.8" fill="#0000ff"/>
<path d="M498.81 384.7V378.7M498.81 387.5V394.7" stroke="#0000ff" stroke-width="1.7" stroke-dasharray="3.5 2.8"/>
<rect x="497.41" y="384.7" width="2.8" height="2.8" fill="#0000ff"/>
<path d="M520.98 385.3V378.3M520.98 388.1V395.1" stroke="#0000ff" stroke-width="1.7" stroke-dasharray="3.5 2.8"/>
<rect x="519.58" y="385.3" width="2.8" height="2.8" fill="#0000ff"/>
<path d="M543.15 386.3V379.7M543.15 389.1V396.1" stroke="#0000ff" stroke-width="1.7" stroke-dasharray="3.5 2.8"/>
<rect x="541.75" y="386.3" width="2.8" height="2.8" fill="#0000ff"/>
<path d="M565.32 388.3V384.7M565.32 391.1V397.7" stroke="#0000ff" stroke-width="1.7" stroke-dasharray="3.5 2.8"/>
<rect x="563.92" y="388.3" width="2.8" height="2.8" fill="#0000ff"/>
<path d="M587.49 387.7V380.7M587.49 390.5V397.7" stroke="#0000ff" stroke-width="1.7" stroke-dasharray="3.5 2.8"/>
<rect x="586.09" y="387.7" width="2.8" height="2.8" fill="#0000ff"/>
<path d="M609.66 386.3V379.3M609.66 389.1V397.3" stroke="#0000ff" stroke-width="1.7" stroke-dasharray="3.5 2.8"/>
<rect x="608.26" y="386.3" width="2.8" height="2.8" fill="#0000ff"/>
<clipPath id="c4"><rect x="421.05" y="211.05" width="246.3" height="226.95"/></clipPath><g clip-path="url(#c4)">
<path d="M432.3 352.2C439.63 351.87 439.53 351.67 454.3 351.2C469.07 350.73 461.8 349.75 476.6 350.8C491.4 351.85 483.97 351.45 498.7 354.35C513.43 357.25 505.93 356.42 520.8 359.49C535.67 362.56 528.43 361.66 543.3 363.57C558.17 365.47 550.67 365.89 565.4 365.21C580.13 364.54 572.67 365.01 587.5 361.55C602.33 358.09 595.07 359.59 609.9 354.85C624.73 350.1 624.63 349.82 632 347.31" fill="none" stroke="#ff0000" stroke-width="0.55" stroke-dasharray="3.1 2.8" stroke-opacity="1"/>
<path d="M432.3 354.4C439.63 354.35 439.53 354.17 454.3 354.26C469.07 354.35 461.8 353.45 476.6 354.67C491.4 355.89 483.97 355.38 498.7 357.92C513.43 360.46 505.93 359.61 520.8 362.28C535.67 364.95 528.43 364.16 543.3 365.92C558.17 367.68 550.67 367.98 565.4 367.56C580.13 367.14 572.67 367.41 587.5 364.66C602.33 361.92 595.07 363.04 609.9 359.33C624.73 355.62 624.63 355.46 632 353.52" fill="none" stroke="#ff0000" stroke-width="0.55" stroke-dasharray="3.1 2.8" stroke-opacity="1"/>
<path d="M432.3 356.82C439.63 357 439.53 356.84 454.3 357.35C469.07 357.87 461.8 356.86 476.6 358.36C491.4 359.85 483.97 359.29 498.7 361.84C513.43 364.39 505.93 363.59 520.8 366C535.67 368.41 528.43 367.67 543.3 369.07C558.17 370.47 550.67 370.69 565.4 370.21C580.13 369.72 572.67 370.12 587.5 367.6C602.33 365.09 595.07 366.19 609.9 362.66C624.73 359.14 624.63 358.91 632 357.03" fill="none" stroke="#ff0000" stroke-width="0.55" stroke-dasharray="3.1 2.8" stroke-opacity="1"/>
<path d="M432.3 364.74C439.63 364.62 439.53 364.54 454.3 364.38C469.07 364.23 461.8 363.59 476.6 364.28C491.4 364.98 483.97 364.82 498.7 366.46C513.43 368.1 505.93 367.6 520.8 369.2C535.67 370.81 528.43 370.37 543.3 371.27C558.17 372.18 550.67 372.55 565.4 371.91C580.13 371.28 572.67 371.78 587.5 369.37C602.33 366.96 595.07 368.08 609.9 364.69C624.73 361.3 624.63 361.02 632 359.19" fill="none" stroke="#ff0000" stroke-width="0.55" stroke-dasharray="3.1 2.8" stroke-opacity="1"/>
<path d="M432.3 367.82C439.63 367.76 439.53 367.7 454.3 367.65C469.07 367.59 461.8 366.88 476.6 367.65C491.4 368.42 483.97 368.32 498.7 369.96C513.43 371.6 505.93 371.09 520.8 372.57C535.67 374.04 528.43 373.58 543.3 374.39C558.17 375.19 550.67 375.31 565.4 374.98C580.13 374.65 572.67 374.92 587.5 373.4C602.33 371.88 595.07 372.54 609.9 370.42C624.73 368.29 624.63 368.15 632 367.02" fill="none" stroke="#ff0000" stroke-width="0.55" stroke-dasharray="3.1 2.8" stroke-opacity="1"/>
<path d="M432.3 370.24C439.63 370.27 439.53 370.24 454.3 370.33C469.07 370.43 461.8 369.78 476.6 370.54C491.4 371.3 483.97 371.22 498.7 372.62C513.43 374.02 505.93 373.57 520.8 374.74C535.67 375.91 528.43 375.55 543.3 376.14C558.17 376.73 550.67 376.82 565.4 376.52C580.13 376.22 572.67 376.44 587.5 375.24C602.33 374.03 595.07 374.56 609.9 372.9C624.73 371.24 624.63 371.14 632 370.26" fill="none" stroke="#ff0000" stroke-width="0.55" stroke-dasharray="3.1 2.8" stroke-opacity="1"/>
<path d="M432.3 374.2C439.63 374.07 439.53 374.07 454.3 373.8C469.07 373.53 461.8 373 476.6 373.4C491.4 373.8 483.97 373.93 498.7 375C513.43 376.07 505.93 375.73 520.8 376.6C535.67 377.47 528.43 377.2 543.3 377.6C558.17 378 550.67 378.07 565.4 377.8C580.13 377.53 572.67 377.67 587.5 376.8C602.33 375.93 595.07 376.3 609.9 375.2C624.73 374.1 624.63 374.07 632 373.5" fill="none" stroke="#ff0000" stroke-width="0.55" stroke-dasharray="3.1 2.8" stroke-opacity="1"/>
</g>
<rect x="421.05" y="211.05" width="246.3" height="226.95" fill="none" stroke="#000" stroke-width="2.15"/>
<path d="M421.05 422.87h4.25M421.05 407.74h4.25M421.05 392.61h4.25M421.05 377.48h4.25M421.05 347.22h4.25M421.05 332.09h4.25M421.05 316.96h4.25M421.05 301.83h4.25M421.05 271.57h4.25M421.05 256.44h4.25M421.05 241.31h4.25M421.05 226.18h4.25M421.05 362.35h9.0M421.05 286.7h9.0" stroke="#000" stroke-width="1.6" fill="none"/>
<path d="M445.74 438v-4.25M470.43 438v-4.25M495.12 438v-4.25M519.81 438v-4.25M569.19 438v-4.25M593.88 438v-4.25M618.57 438v-4.25M643.26 438v-4.25M544.5 438v-9.0" stroke="#000" stroke-width="1.6" fill="none"/>
<path d="M391.11 221.05L388.62 221.05L388.62 206.04L384.35 206.04L384.35 204.18C386.89 203.94 388.89 202.55 389.55 200.06L391.11 200.06Z" fill="#000"/>
<text transform="translate(396.78 221.05) scale(0.925 1)" font-size="29.6">5</text>
<path d="M391.11 297.05L388.62 297.05L388.62 282.04L384.35 282.04L384.35 280.18C386.89 279.94 388.89 278.55 389.55 276.06L391.11 276.06Z" fill="#000"/>
<text transform="translate(396.78 297.05) scale(0.925 1)" font-size="29.6">0</text>
<text transform="translate(396.78 372.75) scale(0.925 1)" font-size="29.6">5</text>
<text transform="translate(396.78 448.65) scale(0.925 1)" font-size="29.6">0</text>
<text transform="translate(413.99 467.7) scale(0.925 1)" font-size="29.6">0</text>
<path d="M531.12 467.7L528.63 467.7L528.63 452.69L524.36 452.69L524.36 450.83C526.9 450.59 528.9 449.2 529.56 446.71L531.12 446.71Z" fill="#000"/>
<text transform="translate(536.79 467.7) scale(0.925 1)" font-size="29.6">00</text>
<path d="M124.9 667.8V686.5" stroke="#000" stroke-width="1.35"/>
<circle cx="124.9" cy="676.8" r="3.85" fill="#000"/>
<path d="M171.7 597.1V661.8" stroke="#000" stroke-width="1.35"/>
<circle cx="171.7" cy="629.5" r="3.85" fill="#000"/>
<path d="M218.4 588.1V688.4" stroke="#000" stroke-width="1.35"/>
<circle cx="218.4" cy="638.3" r="3.85" fill="#000"/>
<path d="M265.3 645V679" stroke="#000" stroke-width="1.35"/>
<circle cx="265.3" cy="662.1" r="3.85" fill="#000"/>
<path d="M311.8 655.7V687.6" stroke="#000" stroke-width="1.35"/>
<circle cx="311.8" cy="670.5" r="3.85" fill="#000"/>
<rect x="123.15" y="714.2" width="3.5" height="3.2" fill="#00ff00"/>
<rect x="169.95" y="708.8" width="3.5" height="3.2" fill="#00ff00"/>
<path d="M218.4 702.7V706.7" stroke="#00ff00" stroke-width="1.6" stroke-linecap="round"/>
<rect x="216.65" y="703.1" width="3.5" height="3.2" fill="#00ff00"/>
<rect x="263.55" y="708.9" width="3.5" height="3.2" fill="#00ff00"/>
<rect x="310.05" y="714.3" width="3.5" height="3.2" fill="#00ff00"/>
<path d="M124.9 675.1V666M124.9 678.5V687.7" stroke="#0000ff" stroke-width="1.8" stroke-dasharray="3.5 2.8"/>
<rect x="123.2" y="675.1" width="3.4" height="3.4" fill="#0000ff"/>
<path d="M171.7 677.4V669.8M171.7 680.8V687.7" stroke="#0000ff" stroke-width="1.8" stroke-dasharray="3.5 2.8"/>
<rect x="170" y="677.4" width="3.4" height="3.4" fill="#0000ff"/>
<path d="M218.4 669.3V660.8M218.4 672.7V682.5" stroke="#0000ff" stroke-width="1.8" stroke-dasharray="3.5 2.8"/>
<rect x="216.7" y="669.3" width="3.4" height="3.4" fill="#0000ff"/>
<path d="M265.3 677V669.7M265.3 680.4V686.8" stroke="#0000ff" stroke-width="1.8" stroke-dasharray="3.5 2.8"/>
<rect x="263.6" y="677" width="3.4" height="3.4" fill="#0000ff"/>
<path d="M311.8 675.7V668.4M311.8 679.1V687.6" stroke="#0000ff" stroke-width="1.8" stroke-dasharray="3.5 2.8"/>
<rect x="310.1" y="675.7" width="3.4" height="3.4" fill="#0000ff"/>
<path d="M124.79 644.6L126.86 644.61L128.94 644.63L131.02 644.68L133.1 644.73L135.18 644.79L137.26 644.85L139.33 644.91L141.41 644.97L143.49 645.02L145.57 645.07L147.65 645.1L149.72 645.13L151.8 645.15L153.88 645.17L155.96 645.18L158.04 645.18L160.11 645.19L162.19 645.19L164.27 645.14L166.35 644.94L168.43 644.58L170.5 644.08L172.58 643.42L174.66 642.64L176.74 641.73L178.82 640.7L180.89 639.59L182.97 638.38L185.05 637.12L187.13 635.8L189.21 634.46L191.29 633.1L193.36 631.75L195.44 630.43L197.52 629.15L199.6 627.93L201.68 626.78L203.75 625.73L205.83 624.79L207.91 623.97L209.99 623.28L212.07 622.73L214.14 622.34L216.22 622.09L218.3 622L220.38 622.07L222.46 622.3L224.53 622.68L226.61 623.2L228.69 623.87L230.77 624.68L232.85 625.6L234.92 626.63L237 627.75L239.08 628.96L241.16 630.22L243.24 631.53L245.32 632.87L247.39 634.21L249.47 635.55L251.55 636.86L253.63 638.12L255.71 639.32L257.78 640.44L259.86 641.46L261.94 642.38L264.02 643.17L266.1 643.83L268.17 644.35L270.25 644.72L272.33 644.94L274.41 645L276.49 645L278.56 644.99L280.64 644.98L282.72 644.97L284.8 644.96L286.88 644.94L288.96 644.91L291.03 644.87L293.11 644.83L295.19 644.77L297.27 644.72L299.35 644.65L301.42 644.59L303.5 644.53L305.58 644.48L307.66 644.44L309.74 644.41L311.81 644.4" fill="none" stroke="#ff0000" stroke-width="0.55" stroke-dasharray="3.1 2.8" stroke-opacity="1"/>
<path d="M124.79 647.4L126.86 647.41L128.94 647.43L131.02 647.46L133.1 647.51L135.18 647.56L137.26 647.61L139.33 647.66L141.41 647.71L143.49 647.75L145.57 647.79L147.65 647.82L149.72 647.84L151.8 647.86L153.88 647.87L155.96 647.88L158.04 647.88L160.11 647.89L162.19 647.89L164.27 647.84L166.35 647.64L168.43 647.28L170.5 646.78L172.58 646.13L174.66 645.34L176.74 644.44L178.82 643.42L180.89 642.3L182.97 641.11L185.05 639.85L187.13 638.54L189.21 637.2L191.29 635.85L193.36 634.5L195.44 633.18L197.52 631.91L199.6 630.69L201.68 629.56L203.75 628.51L205.83 627.58L207.91 626.76L209.99 626.08L212.07 625.53L214.14 625.13L216.22 624.89L218.3 624.8L220.38 624.87L222.46 625.09L224.53 625.47L226.61 626L228.69 626.66L230.77 627.46L232.85 628.37L234.92 629.39L237 630.51L239.08 631.7L241.16 632.96L243.24 634.26L245.32 635.58L247.39 636.91L249.47 638.24L251.55 639.53L253.63 640.79L255.71 641.97L257.78 643.08L259.86 644.1L261.94 645L264.02 645.79L266.1 646.45L268.17 646.96L270.25 647.33L272.33 647.54L274.41 647.6L276.49 647.6L278.56 647.59L280.64 647.59L282.72 647.58L284.8 647.56L286.88 647.54L288.96 647.51L291.03 647.47L293.11 647.43L295.19 647.38L297.27 647.32L299.35 647.25L301.42 647.19L303.5 647.13L305.58 647.08L307.66 647.04L309.74 647.01L311.81 647" fill="none" stroke="#ff0000" stroke-width="0.55" stroke-dasharray="3.1 2.8" stroke-opacity="1"/>
<path d="M124.79 646L126.86 646.01L128.94 646.05L131.02 646.1L133.1 646.17L135.18 646.25L137.26 646.34L139.33 646.42L141.41 646.5L143.49 646.56L145.57 646.62L147.65 646.67L149.72 646.71L151.8 646.74L153.88 646.76L155.96 646.77L158.04 646.78L160.11 646.78L162.19 646.79L164.27 646.76L166.35 646.62L168.43 646.39L170.5 646.05L172.58 645.62L174.66 645.1L176.74 644.49L178.82 643.81L180.89 643.07L182.97 642.27L185.05 641.43L187.13 640.56L189.21 639.66L191.29 638.76L193.36 637.87L195.44 636.99L197.52 636.14L199.6 635.33L201.68 634.57L203.75 633.88L205.83 633.25L207.91 632.71L209.99 632.25L212.07 631.89L214.14 631.62L216.22 631.46L218.3 631.4L220.38 631.45L222.46 631.6L224.53 631.85L226.61 632.2L228.69 632.64L230.77 633.17L232.85 633.78L234.92 634.46L237 635.21L239.08 636L241.16 636.84L243.24 637.7L245.32 638.59L247.39 639.48L249.47 640.36L251.55 641.22L253.63 642.06L255.71 642.85L257.78 643.59L259.86 644.26L261.94 644.87L264.02 645.39L266.1 645.83L268.17 646.17L270.25 646.42L272.33 646.56L274.41 646.6L276.49 646.6L278.56 646.59L280.64 646.58L282.72 646.57L284.8 646.56L286.88 646.54L288.96 646.51L291.03 646.47L293.11 646.43L295.19 646.37L297.27 646.32L299.35 646.25L301.42 646.19L303.5 646.13L305.58 646.08L307.66 646.04L309.74 646.01L311.81 646" fill="none" stroke="#ff0000" stroke-width="0.55" stroke-dasharray="3.1 2.8" stroke-opacity="1"/>
<path d="M124.79 657.5L126.86 657.51L128.94 657.53L131.02 657.56L133.1 657.61L135.18 657.66L137.26 657.71L139.33 657.76L141.41 657.81L143.49 657.86L145.57 657.89L147.65 657.92L149.72 657.95L151.8 657.96L153.88 657.98L155.96 657.99L158.04 657.99L160.11 658L162.19 658L164.27 657.97L166.35 657.8L168.43 657.51L170.5 657.1L172.58 656.57L174.66 655.93L176.74 655.19L178.82 654.36L180.89 653.45L182.97 652.47L185.05 651.44L187.13 650.37L189.21 649.28L191.29 648.17L193.36 647.07L195.44 645.99L197.52 644.95L199.6 643.95L201.68 643.02L203.75 642.16L205.83 641.39L207.91 640.72L209.99 640.15L212.07 639.7L214.14 639.38L216.22 639.17L218.3 639.1" fill="none" stroke="#ff0000" stroke-width="0.55" stroke-dasharray="3.1 2.8" stroke-opacity="1"/>
<path d="M218.3 639.1L220.38 639.16L222.46 639.34L224.53 639.66L226.61 640.09L228.69 640.65L230.77 641.31L232.85 642.07L234.92 642.92L237 643.85L239.08 644.85L241.16 645.9L243.24 646.99L245.32 648.1L247.39 649.21L249.47 650.32L251.55 651.41L253.63 652.46L255.71 653.46L257.78 654.39L259.86 655.24L261.94 656L264.02 656.66L266.1 657.21L268.17 657.65L270.25 657.96L272.33 658.14L274.41 658.19L276.49 658.19L278.56 658.19L280.64 658.18L282.72 658.18L284.8 658.17L286.88 658.15L288.96 658.13L291.03 658.11L293.11 658.08L295.19 658.05L297.27 658.01L299.35 657.97L301.42 657.93L303.5 657.89L305.58 657.85L307.66 657.82L309.74 657.81L311.81 657.8" fill="none" stroke="#ff0000" stroke-width="0.6" stroke-dasharray="40 0.01" stroke-opacity="0.9"/>
<path d="M124.79 658.9L126.86 658.91L128.94 658.94L131.02 658.99L133.1 659.05L135.18 659.12L137.26 659.2L139.33 659.27L141.41 659.34L143.49 659.4L145.57 659.45L147.65 659.49L149.72 659.52L151.8 659.55L153.88 659.57L155.96 659.58L158.04 659.59L160.11 659.6L162.19 659.6L164.27 659.58L166.35 659.47L168.43 659.28L170.5 659L172.58 658.65L174.66 658.23L176.74 657.73L178.82 657.18L180.89 656.57L182.97 655.92L185.05 655.23L187.13 654.52L189.21 653.79L191.29 653.05L193.36 652.32L195.44 651.6L197.52 650.9L199.6 650.24L201.68 649.61L203.75 649.04L205.83 648.53L207.91 648.08L209.99 647.7L212.07 647.4L214.14 647.18L216.22 647.05L218.3 647L220.38 647.04L222.46 647.16L224.53 647.37L226.61 647.66L228.69 648.03L230.77 648.48L232.85 648.99L234.92 649.56L237 650.18L239.08 650.85L241.16 651.55L243.24 652.28L245.32 653.02L247.39 653.77L249.47 654.52L251.55 655.24L253.63 655.95L255.71 656.62L257.78 657.24L259.86 657.81L261.94 658.32L264.02 658.77L266.1 659.13L268.17 659.43L270.25 659.63L272.33 659.76L274.41 659.79L276.49 659.79L278.56 659.79L280.64 659.78L282.72 659.78L284.8 659.77L286.88 659.75L288.96 659.73L291.03 659.71L293.11 659.68L295.19 659.65L297.27 659.61L299.35 659.57L301.42 659.53L303.5 659.49L305.58 659.45L307.66 659.42L309.74 659.41L311.81 659.4" fill="none" stroke="#ff0000" stroke-width="0.55" stroke-dasharray="3.1 2.8" stroke-opacity="1"/>
<path d="M124.79 663.2L126.86 663.21L128.94 663.25L131.02 663.3L133.1 663.38L135.18 663.46L137.26 663.54L139.33 663.62L141.41 663.7L143.49 663.77L145.57 663.83L147.65 663.88L149.72 663.92L151.8 663.95L153.88 663.97L155.96 663.99L158.04 664L160.11 664.01L162.19 664.01L164.27 663.98L166.35 663.84L168.43 663.6L170.5 663.24L172.58 662.78L174.66 662.23L176.74 661.59L178.82 660.87L180.89 660.08L182.97 659.24L185.05 658.34L187.13 657.41L189.21 656.46L191.29 655.5L193.36 654.55L195.44 653.61L197.52 652.7L199.6 651.83L201.68 651.02L203.75 650.27L205.83 649.6L207.91 649.02L209.99 648.52L212.07 648.13L214.14 647.84L216.22 647.66L218.3 647.6L220.38 647.65L222.46 647.81L224.53 648.09L226.61 648.48L228.69 648.96L230.77 649.55L232.85 650.22L234.92 650.98L237 651.81L239.08 652.69L241.16 653.62L243.24 654.59L245.32 655.58L247.39 656.57L249.47 657.56L251.55 658.53L253.63 659.46L255.71 660.35L257.78 661.18L259.86 661.94L261.94 662.62L264.02 663.21L266.1 663.7L268.17 664.09L270.25 664.37L272.33 664.53L274.41 664.58L276.49 664.58L278.56 664.58L280.64 664.57L282.72 664.57L284.8 664.56L286.88 664.55L288.96 664.53L291.03 664.51L293.11 664.48L295.19 664.44L297.27 664.41L299.35 664.36L301.42 664.32L303.5 664.28L305.58 664.25L307.66 664.22L309.74 664.2L311.81 664.2" fill="none" stroke="#ff0000" stroke-width="0.55" stroke-dasharray="3.1 2.8" stroke-opacity="1"/>
<path d="M124.79 665.1L126.86 665.11L128.94 665.14L131.02 665.19L133.1 665.25L135.18 665.32L137.26 665.4L139.33 665.47L141.41 665.54L143.49 665.6L145.57 665.65L147.65 665.69L149.72 665.73L151.8 665.75L153.88 665.77L155.96 665.79L158.04 665.8L160.11 665.8L162.19 665.81L164.27 665.78L166.35 665.66L168.43 665.43L170.5 665.11L172.58 664.7L174.66 664.21L176.74 663.63L178.82 662.99L180.89 662.28L182.97 661.52L185.05 660.72L187.13 659.89L189.21 659.03L191.29 658.17L193.36 657.32L195.44 656.48L197.52 655.66L199.6 654.89L201.68 654.16L203.75 653.49L205.83 652.89L207.91 652.36L209.99 651.92L212.07 651.57L214.14 651.32L216.22 651.16L218.3 651.1L220.38 651.14L222.46 651.29L224.53 651.54L226.61 651.88L228.69 652.32L230.77 652.84L232.85 653.44L234.92 654.11L237 654.84L239.08 655.63L241.16 656.46L243.24 657.32L245.32 658.19L247.39 659.08L249.47 659.95L251.55 660.81L253.63 661.64L255.71 662.43L257.78 663.17L259.86 663.84L261.94 664.45L264.02 664.97L266.1 665.41L268.17 665.75L270.25 666L272.33 666.14L274.41 666.18L276.49 666.18L278.56 666.18L280.64 666.18L282.72 666.17L284.8 666.16L286.88 666.15L288.96 666.13L291.03 666.11L293.11 666.08L295.19 666.05L297.27 666.01L299.35 665.97L301.42 665.92L303.5 665.88L305.58 665.85L307.66 665.82L309.74 665.8L311.81 665.8" fill="none" stroke="#ff0000" stroke-width="0.55" stroke-dasharray="3.1 2.8" stroke-opacity="1"/>
<rect x="101.7" y="511.05" width="246.3" height="226.95" fill="none" stroke="#000" stroke-width="2.15"/>
<path d="M101.7 726.29h4.25M101.7 714.43h4.25M101.7 702.57h4.25M101.7 690.71h4.25M101.7 666.99h4.25M101.7 655.13h4.25M101.7 643.27h4.25M101.7 631.41h4.25M101.7 607.69h4.25M101.7 595.83h4.25M101.7 583.97h4.25M101.7 572.11h4.25M101.7 548.39h4.25M101.7 536.53h4.25M101.7 524.67h4.25M101.7 512.81h4.25M101.7 678.85h9.0M101.7 619.55h9.0M101.7 560.25h9.0" stroke="#000" stroke-width="1.6" fill="none"/>
<path d="M134.1 738v-4.25M166.5 738v-4.25M198.9 738v-4.25M263.7 738v-4.25M296.1 738v-4.25M328.5 738v-4.25M231.3 738v-9.0" stroke="#000" stroke-width="1.6" fill="none"/>
<text transform="translate(77.68 570.55) scale(0.925 1)" font-size="29.6">3</text>
<text transform="translate(77.68 629.95) scale(0.925 1)" font-size="29.6">2</text>
<path d="M87.23 689.25L84.74 689.25L84.74 674.24L80.47 674.24L80.47 672.38C83.02 672.14 85.01 670.75 85.67 668.26L87.23 668.26Z" fill="#000"/>
<text transform="translate(77.68 748.65) scale(0.925 1)" font-size="29.6">0</text>
<text transform="translate(93.99 767.7) scale(0.925 1)" font-size="29.6">0</text>
<text transform="translate(208.57 767.7) scale(0.925 1)" font-size="29.6">200</text>
<path d="M444.4 663.1V689.8" stroke="#000" stroke-width="1.35"/>
<circle cx="444.4" cy="676" r="3.85" fill="#000"/>
<path d="M491.3 670.8V693" stroke="#000" stroke-width="1.35"/>
<circle cx="491.3" cy="682.2" r="3.85" fill="#000"/>
<path d="M538.1 566.2V637.9" stroke="#000" stroke-width="1.35"/>
<circle cx="538.1" cy="602.6" r="3.85" fill="#000"/>
<path d="M584.8 618.2V658.7" stroke="#000" stroke-width="1.35"/>
<circle cx="584.8" cy="638.2" r="3.85" fill="#000"/>
<rect x="442.65" y="704.8" width="3.5" height="3.2" fill="#00ff00"/>
<rect x="489.55" y="721.8" width="3.5" height="3.2" fill="#00ff00"/>
<rect x="536.35" y="725.6" width="3.5" height="3.2" fill="#00ff00"/>
<rect x="583.05" y="721.8" width="3.5" height="3.2" fill="#00ff00"/>
<path d="M444.4 686.4V679.4M444.4 689.8V696.7" stroke="#0000ff" stroke-width="1.8" stroke-dasharray="3.5 2.8"/>
<rect x="442.7" y="686.4" width="3.4" height="3.4" fill="#0000ff"/>
<path d="M491.3 690.5V685.3M491.3 693.9V698.5" stroke="#0000ff" stroke-width="1.8" stroke-dasharray="3.5 2.8"/>
<rect x="489.6" y="690.5" width="3.4" height="3.4" fill="#0000ff"/>
<path d="M538.1 686.7V677.7M538.1 690.1V700.2" stroke="#0000ff" stroke-width="1.8" stroke-dasharray="3.5 2.8"/>
<rect x="536.4" y="686.7" width="3.4" height="3.4" fill="#0000ff"/>
<path d="M584.8 690.5V687.4M584.8 693.9V698.5" stroke="#0000ff" stroke-width="1.8" stroke-dasharray="3.5 2.8"/>
<rect x="583.1" y="690.5" width="3.4" height="3.4" fill="#0000ff"/>
<clipPath id="c6"><rect x="421.05" y="511.05" width="246.3" height="226.95"/></clipPath><g clip-path="url(#c6)">
<path d="M444.14 665.2L446.26 665.35L448.38 665.8L450.5 666.48L452.62 667.31L454.74 668.21L456.86 669.09L458.99 669.89L461.11 670.57L463.23 671.11L465.35 671.52L467.47 671.8L469.59 672L471.71 672.12L473.84 672.2L475.96 672.24L478.08 672.23L480.2 672.01L482.32 671.58L484.44 670.95L486.56 670.12L488.68 669.11L490.81 667.93L492.93 666.59L495.05 665.1L497.17 663.5L499.29 661.79L501.41 660L503.53 658.14L505.65 656.25L507.78 654.34L509.9 652.43L512.02 650.55L514.14 648.73L516.26 646.97L518.38 645.31L520.5 643.77L522.63 642.35L524.75 641.08L526.87 639.98L528.99 639.06L531.11 638.32L533.23 637.78L535.35 637.44L537.47 637.3L539.6 637.43L541.72 637.91L543.84 638.72L545.96 639.86L548.08 641.3L550.2 643.01L552.32 644.95L554.45 647.09L556.57 649.38L558.69 651.78L560.81 654.23L562.93 656.69L565.05 659.1L567.17 661.43L569.29 663.61L571.42 665.61L573.54 667.38L575.66 668.89L577.78 670.12L579.9 671.02L582.02 671.6L584.14 671.82L586.26 671.82L588.39 671.82L590.51 671.82L592.63 671.82L594.75 671.81L596.87 671.81L598.99 671.8L601.11 671.78L603.24 671.75L605.36 671.71L607.48 671.62L609.6 671.48L611.72 671.27L613.84 670.95L615.96 670.5L618.08 669.91L620.21 669.16L622.33 668.28L624.45 667.31L626.57 666.33L628.69 665.41L630.81 664.66L632.93 664.17L635.06 664" fill="none" stroke="#ff0000" stroke-width="0.55" stroke-dasharray="3.1 2.8" stroke-opacity="1"/>
<path d="M444.14 667.5L446.26 667.64L448.38 668.03L450.5 668.63L452.62 669.37L454.74 670.17L456.86 670.95L458.99 671.66L461.11 672.26L463.23 672.74L465.35 673.1L467.47 673.36L469.59 673.53L471.71 673.64L473.84 673.71L475.96 673.74L478.08 673.73L480.2 673.53L482.32 673.13L484.44 672.54L486.56 671.77L488.68 670.83L490.81 669.73L492.93 668.49L495.05 667.11L497.17 665.62L499.29 664.03L501.41 662.37L503.53 660.65L505.65 658.89L507.78 657.11L509.9 655.34L512.02 653.6L514.14 651.9L516.26 650.27L518.38 648.73L520.5 647.3L522.63 645.98L524.75 644.81L526.87 643.79L528.99 642.93L531.11 642.24L533.23 641.74L535.35 641.43L537.47 641.3L539.6 641.42L541.72 641.86L543.84 642.62L545.96 643.67L548.08 645L550.2 646.59L552.32 648.38L554.45 650.36L556.57 652.48L558.69 654.7L560.81 656.97L562.93 659.24L565.05 661.47L567.17 663.62L569.29 665.64L571.42 667.49L573.54 669.13L575.66 670.52L577.78 671.65L579.9 672.49L582.02 673.02L584.14 673.23L586.26 673.23L588.39 673.23L590.51 673.22L592.63 673.22L594.75 673.22L596.87 673.21L598.99 673.2L601.11 673.19L603.24 673.16L605.36 673.12L607.48 673.05L609.6 672.93L611.72 672.74L613.84 672.47L615.96 672.09L618.08 671.58L620.21 670.94L622.33 670.18L624.45 669.35L626.57 668.5L628.69 667.71L630.81 667.07L632.93 666.65L635.06 666.5" fill="none" stroke="#ff0000" stroke-width="0.55" stroke-dasharray="3.1 2.8" stroke-opacity="1"/>
<path d="M444.14 669.9L446.26 670.02L448.38 670.35L450.5 670.86L452.62 671.48L454.74 672.15L456.86 672.81L458.99 673.41L461.11 673.91L463.23 674.32L465.35 674.62L467.47 674.84L469.59 674.98L471.71 675.08L473.84 675.13L475.96 675.17L478.08 675.16L480.2 674.99L482.32 674.67L484.44 674.18L486.56 673.55L488.68 672.77L490.81 671.86L492.93 670.84L495.05 669.7L497.17 668.47L499.29 667.16L501.41 665.78L503.53 664.36L505.65 662.9L507.78 661.43L509.9 659.97L512.02 658.52L514.14 657.12L516.26 655.77L518.38 654.49L520.5 653.3L522.63 652.21L524.75 651.23L526.87 650.38L528.99 649.66L531.11 649.09L533.23 648.67L535.35 648.41L537.47 648.3L539.6 648.4L541.72 648.77L543.84 649.41L545.96 650.3L548.08 651.42L550.2 652.75L552.32 654.27L554.45 655.95L556.57 657.74L558.69 659.62L560.81 661.54L562.93 663.47L565.05 665.37L567.17 667.19L569.29 668.91L571.42 670.48L573.54 671.88L575.66 673.07L577.78 674.03L579.9 674.75L582.02 675.2L584.14 675.39L586.26 675.39L588.39 675.39L590.51 675.39L592.63 675.39L594.75 675.39L596.87 675.39L598.99 675.39L601.11 675.38L603.24 675.36L605.36 675.32L607.48 675.26L609.6 675.15L611.72 674.99L613.84 674.75L615.96 674.41L618.08 673.97L620.21 673.4L622.33 672.74L624.45 672L626.57 671.26L628.69 670.56L630.81 670L632.93 669.63L635.06 669.5" fill="none" stroke="#ff0000" stroke-width="0.55" stroke-dasharray="3.1 2.8" stroke-opacity="1"/>
<path d="M444.14 679.49L446.26 679.52L448.38 679.59L450.5 679.69L452.62 679.82L454.74 679.96L456.86 680.09L458.99 680.21L461.11 680.32L463.23 680.4L465.35 680.46L467.47 680.5L469.59 680.53L471.71 680.54L473.84 680.55L475.96 680.55L478.08 680.52L480.2 680.32L482.32 679.94L484.44 679.39L486.56 678.68L488.68 677.81L490.81 676.79L492.93 675.64L495.05 674.37L497.17 672.99L499.29 671.53L501.41 669.99L503.53 668.41L505.65 666.79L507.78 665.15L509.9 663.52L512.02 661.92L514.14 660.37L516.26 658.87L518.38 657.46L520.5 656.15L522.63 654.95L524.75 653.88L526.87 652.95L528.99 652.17L531.11 651.55L533.23 651.1L535.35 650.81L537.47 650.7L539.6 650.81L541.72 651.2L543.84 651.88L545.96 652.82L548.08 654L550.2 655.4L552.32 656.99L554.45 658.74L556.57 660.6L558.69 662.55L560.81 664.54L562.93 666.54L565.05 668.49L567.17 670.37L569.29 672.13L571.42 673.74L573.54 675.16L575.66 676.38L577.78 677.36L579.9 678.08L582.02 678.53L584.14 678.7L586.26 678.7L588.39 678.68L590.51 678.67L592.63 678.66L594.75 678.66L596.87 678.65L598.99 678.64L601.11 678.62L603.24 678.6L605.36 678.57L607.48 678.52L609.6 678.43L611.72 678.3L613.84 678.11L615.96 677.85L618.08 677.5L620.21 677.06L622.33 676.54L624.45 675.96L626.57 675.38L628.69 674.84L630.81 674.4L632.93 674.11L635.06 674" fill="none" stroke="#ff0000" stroke-width="0.55" stroke-dasharray="3.1 2.8" stroke-opacity="1"/>
<path d="M444.14 681.89L446.26 681.91L448.38 681.97L450.5 682.05L452.62 682.16L454.74 682.27L456.86 682.38L458.99 682.48L461.11 682.57L463.23 682.63L465.35 682.68L467.47 682.71L469.59 682.74L471.71 682.75L473.84 682.75L475.96 682.75L478.08 682.72L480.2 682.53L482.32 682.16L484.44 681.62L486.56 680.92L488.68 680.07L490.81 679.07L492.93 677.95L495.05 676.7L497.17 675.35L499.29 673.92L501.41 672.42L503.53 670.86L505.65 669.27L507.78 667.67L509.9 666.08L512.02 664.51L514.14 662.98L516.26 661.52L518.38 660.13L520.5 658.85L522.63 657.67L524.75 656.62L526.87 655.71L528.99 654.94L531.11 654.34L533.23 653.89L535.35 653.61L537.47 653.5L539.6 653.61L541.72 653.99L543.84 654.66L545.96 655.58L548.08 656.74L550.2 658.12L552.32 659.69L554.45 661.41L556.57 663.25L558.69 665.17L560.81 667.13L562.93 669.09L565.05 671.02L567.17 672.87L569.29 674.6L571.42 676.19L573.54 677.6L575.66 678.8L577.78 679.76L579.9 680.48L582.02 680.92L584.14 681.09L586.26 681.09L588.39 681.08L590.51 681.07L592.63 681.06L594.75 681.05L596.87 681.04L598.99 681.03L601.11 681.02L603.24 681.01L605.36 680.98L607.48 680.94L609.6 680.88L611.72 680.78L613.84 680.63L615.96 680.43L618.08 680.16L620.21 679.83L622.33 679.43L624.45 678.99L626.57 678.55L628.69 678.14L630.81 677.8L632.93 677.58L635.06 677.5" fill="none" stroke="#ff0000" stroke-width="0.55" stroke-dasharray="3.1 2.8" stroke-opacity="1"/>
<path d="M444.14 684.3L446.26 684.31L448.38 684.34L450.5 684.38L452.62 684.44L454.74 684.5L456.86 684.56L458.99 684.62L461.11 684.67L463.23 684.7L465.35 684.73L467.47 684.75L469.59 684.76L471.71 684.76L473.84 684.77L475.96 684.77L478.08 684.74L480.2 684.55L482.32 684.21L484.44 683.72L486.56 683.07L488.68 682.28L490.81 681.35L492.93 680.31L495.05 679.15L497.17 677.9L499.29 676.57L501.41 675.18L503.53 673.73L505.65 672.26L507.78 670.77L509.9 669.29L512.02 667.84L514.14 666.42L516.26 665.06L518.38 663.77L520.5 662.58L522.63 661.48L524.75 660.51L526.87 659.66L528.99 658.95L531.11 658.38L533.23 657.96L535.35 657.7L537.47 657.6L539.6 657.7L541.72 658.06L543.84 658.68L545.96 659.54L548.08 660.63L550.2 661.92L552.32 663.39L554.45 665L556.57 666.72L558.69 668.52L560.81 670.36L562.93 672.2L565.05 674.01L567.17 675.74L569.29 677.37L571.42 678.86L573.54 680.18L575.66 681.31L577.78 682.22L579.9 682.89L582.02 683.31L584.14 683.47L586.26 683.47L588.39 683.46L590.51 683.45L592.63 683.45L594.75 683.44L596.87 683.43L598.99 683.43L601.11 683.42L603.24 683.4L605.36 683.38L607.48 683.35L609.6 683.3L611.72 683.21L613.84 683.09L615.96 682.93L618.08 682.71L620.21 682.43L622.33 682.1L624.45 681.74L626.57 681.37L628.69 681.03L630.81 680.75L632.93 680.57L635.06 680.5" fill="none" stroke="#ff0000" stroke-width="0.55" stroke-dasharray="3.1 2.8" stroke-opacity="1"/>
<path d="M444.14 686.4L446.26 686.4L448.38 686.41L450.5 686.43L452.62 686.46L454.74 686.48L456.86 686.51L458.99 686.53L461.11 686.55L463.23 686.56L465.35 686.57L467.47 686.58L469.59 686.58L471.71 686.59L473.84 686.59L475.96 686.59L478.08 686.56L480.2 686.4L482.32 686.09L484.44 685.64L486.56 685.06L488.68 684.35L490.81 683.51L492.93 682.57L495.05 681.53L497.17 680.4L499.29 679.2L501.41 677.94L503.53 676.63L505.65 675.3L507.78 673.96L509.9 672.62L512.02 671.3L514.14 670.02L516.26 668.78L518.38 667.62L520.5 666.53L522.63 665.54L524.75 664.65L526.87 663.88L528.99 663.23L531.11 662.71L533.23 662.33L535.35 662.09L537.47 662L539.6 662.09L541.72 662.42L543.84 662.99L545.96 663.79L548.08 664.79L550.2 665.98L552.32 667.34L554.45 668.83L556.57 670.43L558.69 672.09L560.81 673.8L562.93 675.51L565.05 677.19L567.17 678.81L569.29 680.33L571.42 681.71L573.54 682.95L575.66 684L577.78 684.85L579.9 685.48L582.02 685.87L584.14 686.03L586.26 686.03L588.39 686.03L590.51 686.02L592.63 686.02L594.75 686.02L596.87 686.01L598.99 686.01L601.11 686L603.24 685.99L605.36 685.97L607.48 685.94L609.6 685.89L611.72 685.81L613.84 685.7L615.96 685.54L618.08 685.32L620.21 685.06L622.33 684.74L624.45 684.39L626.57 684.04L628.69 683.71L630.81 683.44L632.93 683.26L635.06 683.2" fill="none" stroke="#ff0000" stroke-width="0.55" stroke-dasharray="3.1 2.8" stroke-opacity="1"/>
</g>
<rect x="421.05" y="511.05" width="246.3" height="226.95" fill="none" stroke="#000" stroke-width="2.15"/>
<path d="M421.05 729.29h4.25M421.05 720.08h4.25M421.05 710.87h4.25M421.05 701.66h4.25M421.05 683.24h4.25M421.05 674.03h4.25M421.05 664.82h4.25M421.05 655.61h4.25M421.05 637.19h4.25M421.05 627.98h4.25M421.05 618.77h4.25M421.05 609.56h4.25M421.05 591.14h4.25M421.05 581.93h4.25M421.05 572.72h4.25M421.05 563.51h4.25M421.05 545.09h4.25M421.05 535.88h4.25M421.05 526.67h4.25M421.05 517.46h4.25M421.05 692.45h9.0M421.05 646.4h9.0M421.05 600.35h9.0M421.05 554.3h9.0" stroke="#000" stroke-width="1.6" fill="none"/>
<path d="M453.45 738v-4.25M485.85 738v-4.25M518.25 738v-4.25M583.05 738v-4.25M615.45 738v-4.25M647.85 738v-4.25M550.65 738v-9.0" stroke="#000" stroke-width="1.6" fill="none"/>
<text transform="translate(396.78 564.85) scale(0.925 1)" font-size="29.6">4</text>
<text transform="translate(396.78 611.45) scale(0.925 1)" font-size="29.6">3</text>
<text transform="translate(396.78 657.05) scale(0.925 1)" font-size="29.6">2</text>
<path d="M406.33 702.75L403.84 702.75L403.84 687.74L399.57 687.74L399.57 685.88C402.12 685.64 404.11 684.25 404.77 681.76L406.33 681.76Z" fill="#000"/>
<text transform="translate(396.78 748.65) scale(0.925 1)" font-size="29.6">0</text>
<text transform="translate(413.99 767.7) scale(0.925 1)" font-size="29.6">0</text>
<text transform="translate(528.57 767.7) scale(0.925 1)" font-size="29.6">200</text>
<text transform="translate(34.8 74.86) rotate(-90) scale(1.06 1)" font-size="21.5" stroke="#000" stroke-width="0.3">d&#963;/dM (&#956;b/GeV)</text>
<text transform="translate(34.8 421.36) rotate(-90) scale(1.06 1)" font-size="21.5" stroke="#000" stroke-width="0.3">d&#963;/d(-cos &#952;) (&#956;b/rad)</text>
<text transform="translate(34.8 657.3) rotate(-90) scale(1.06 1)" font-size="21.5" stroke="#000" stroke-width="0.3">d&#963;/d&#945; (&#956;b/rad)</text>
<text transform="translate(207.43 186.3) scale(1.1193 1)" font-size="21.5" stroke="#000" stroke-width="0.3">M</text>
<text transform="translate(237.71 194.3) scale(0.9640 1)" font-size="15.6" stroke="#000" stroke-width="0.3">&#960;+ p &#8217;</text>
<text transform="translate(287.88 186.3) scale(1.0645 1)" font-size="21.5" stroke="#000" stroke-width="0.3">(GeV)</text>
<text transform="translate(529.29 186.3) scale(1.1958 1)" font-size="21.5" stroke="#000" stroke-width="0.3">M</text>
<text transform="translate(559.84 194.3) scale(0.9209 1)" font-size="15.6" stroke="#000" stroke-width="0.3">&#960;+ &#960;-</text>
<text transform="translate(607.58 186.3) scale(1.0645 1)" font-size="21.5" stroke="#000" stroke-width="0.3">(GeV)</text>
<text transform="translate(230.08 487) scale(0.9981 1)" font-size="21.5" stroke="#000" stroke-width="0.3">&#952;</text>
<text transform="translate(241.72 494.1) scale(0.9479 1)" font-size="15.6" stroke="#000" stroke-width="0.3">&#960;-</text>
<text transform="translate(261.88 487) scale(1.0674 1)" font-size="21.5" stroke="#000" stroke-width="0.3">(degree)</text>
<text transform="translate(545.04 487) scale(1.0393 1)" font-size="21.5" stroke="#000" stroke-width="0.3">&#952;</text>
<text transform="translate(557.23 494.1) scale(0.9405 1)" font-size="15.6" stroke="#000" stroke-width="0.3">&#960;+</text>
<text transform="translate(581.98 487) scale(1.0674 1)" font-size="21.5" stroke="#000" stroke-width="0.3">(degree)</text>
<text transform="translate(149.48 787) scale(1.1284 1)" font-size="21.5" stroke="#000" stroke-width="0.3">&#945;</text>
<text transform="translate(167.67 794.6) scale(1.0180 1)" font-size="15.6" stroke="#000" stroke-width="0.3">[&#960;- p][&#960;+ p &#8217;]</text>
<text transform="translate(261.88 787) scale(1.0674 1)" font-size="21.5" stroke="#000" stroke-width="0.3">(degree)</text>
<text transform="translate(473.6 787) scale(1.1100 1)" font-size="21.5" stroke="#000" stroke-width="0.3">&#945;</text>
<text transform="translate(487.67 794.6) scale(1.0180 1)" font-size="15.6" stroke="#000" stroke-width="0.3">[&#960;+ p][&#960;- p &#8217;]</text>
<text transform="translate(581.98 787) scale(1.0674 1)" font-size="21.5" stroke="#000" stroke-width="0.3">(degree)</text>
</svg>
</body></html>
